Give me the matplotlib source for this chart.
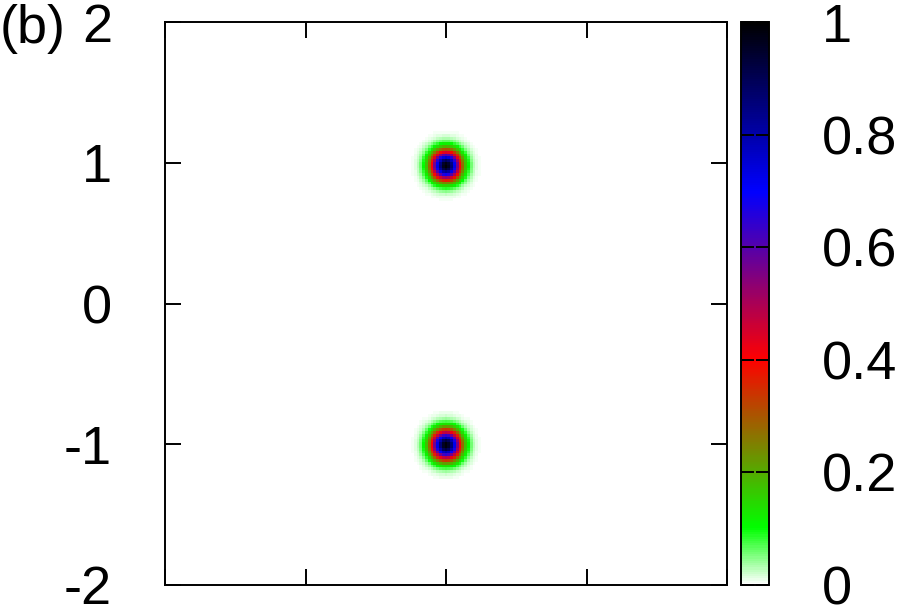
import numpy as np
import matplotlib
matplotlib.use('Agg')
import matplotlib.pyplot as plt
from matplotlib.colors import LinearSegmentedColormap

plt.rcParams['font.family'] = ['Liberation Sans', 'DejaVu Sans']

# axis ticks / labels
x_ticks = [-2, -1, 0, 1, 2]
y_ticks = [-2, -1, 0, 1, 2]
y_labels = ['-2', '-1', '0', '1', '2']
cb_ticks = [0, 0.2, 0.4, 0.6, 0.8, 1]
cb_labels = ['0', '0.2', '0.4', '0.6', '0.8', '1']

# two gaussian spots
peak_x = [0.0, 0.0]
peak_y = [0.985, -1.01]
peak_height = [1.0, 1.0]
peak_sigma = [0.075, 0.075]

# gnuplot-like palette: white -> green -> red -> blue -> black
palette_pos = [0.0, 0.1, 0.4, 0.7, 1.0]
palette_col = ['#ffffff', '#00ff00', '#ff0000', '#0000ff', '#000000']
cmap = LinearSegmentedColormap.from_list('pal', list(zip(palette_pos, palette_col)), N=256)

grid = np.linspace(-2, 2, 201)
X, Y = np.meshgrid(grid, grid)
Z = np.zeros_like(X)
for px, py, h, s in zip(peak_x, peak_y, peak_height, peak_sigma):
    Z += h * np.exp(-((X - px)**2 + (Y - py)**2) / (2 * s**2))

fig = plt.figure(figsize=(9, 6.07), dpi=100)
ax = fig.add_axes([165/900, 1 - 585/607, 562/900, 563/607])
im = ax.imshow(Z, origin='lower', extent=(-2, 2, -2, 2), cmap=cmap, vmin=0, vmax=1,
               interpolation='nearest', aspect='auto')
ax.set_xlim(-2, 2)
ax.set_ylim(-2, 2)
ax.set_xticks(x_ticks)
ax.set_xticklabels([])
ax.set_yticks(y_ticks)
ax.set_yticklabels(y_labels)
ax.tick_params(direction='in', length=11.5, width=1.4, top=True, right=True,
               labelsize=39, pad=38, color='black')
for sp in ax.spines.values():
    sp.set_linewidth(1.4)

cax = fig.add_axes([741/900, 1 - 585/607, 28/900, 563/607])
cb = fig.colorbar(im, cax=cax, ticks=cb_ticks)
cb.set_ticklabels(cb_labels)
cb.outline.set_linewidth(1.4)
cax.tick_params(direction='in', length=9.5, width=1.4, left=True, right=True,
                labelsize=39, pad=38)

fig.text(0.0, 1 - 43/607, '(b)', fontsize=39, ha='left', va='baseline')

fig.savefig('out.png', dpi=100)
